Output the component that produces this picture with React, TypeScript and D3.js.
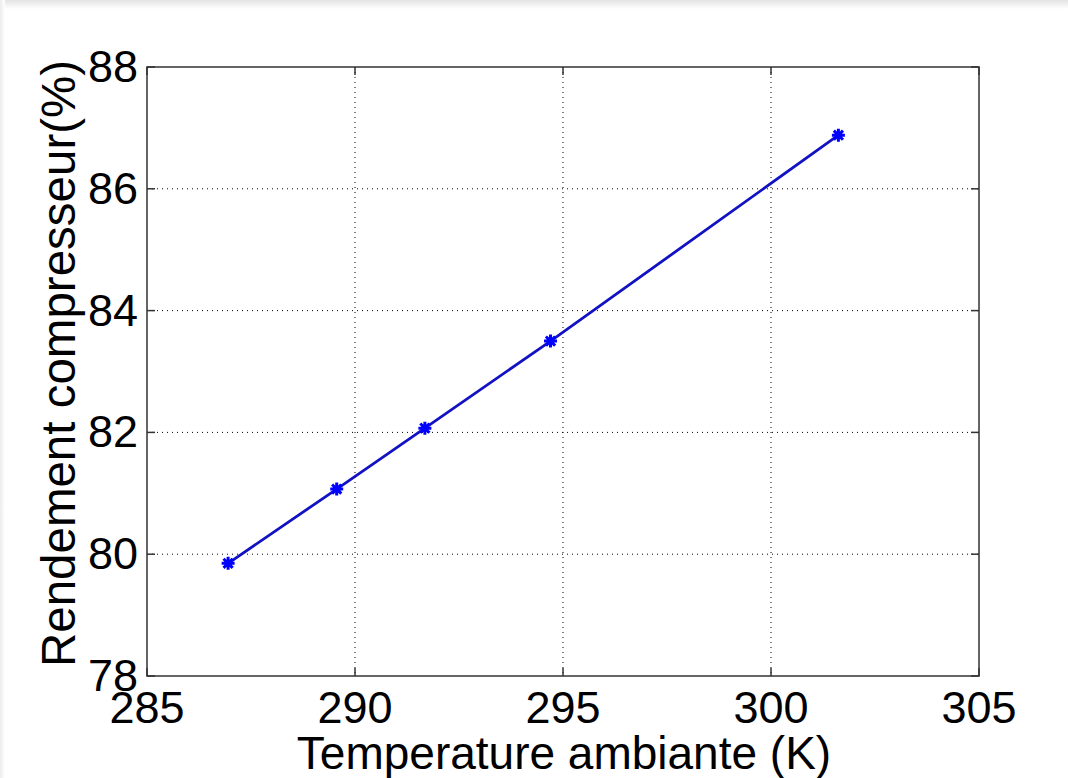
import React from "react";
import * as d3 from "d3";

// Ambient temperature (K) and compressor efficiency (%)
const temperatures = [286.95, 289.56, 291.68, 294.70, 301.62];
const efficiencies = [79.85, 81.07, 82.07, 83.50, 86.88];

const xTicks = [285, 290, 295, 300, 305];
const yTicks = [78, 80, 82, 84, 86, 88];

const xTitle = "Temperature ambiante (K)";
const yTitle = "Rendement compresseur(%)";

const W = 1068;
const H = 778;
const left = 147;
const right = 979;
const top = 67;
const bottom = 676;
const font = "Liberation Sans, Arial, Helvetica, sans-serif";

export default function App() {
  const x = d3.scaleLinear().domain([285, 305]).range([left, right]);
  const y = d3.scaleLinear().domain([78, 88]).range([bottom, top]);

  const pts = temperatures.map((t, i) => [x(t), y(efficiencies[i])] as [number, number]);
  const line = d3.line()(pts) || "";

  const star = (cx: number, cy: number, r: number) => {
    const d = r * Math.SQRT1_2;
    return `M${cx - r},${cy}L${cx + r},${cy}M${cx},${cy - r}L${cx},${cy + r}` +
      `M${cx - d},${cy - d}L${cx + d},${cy + d}M${cx - d},${cy + d}L${cx + d},${cy - d}`;
  };

  return (
    <svg
      width={W}
      height={H}
      viewBox={`0 0 ${W} ${H}`}
      style={{ position: "absolute", left: 0, top: 0, display: "block", background: "#fff" }}
    >
      <defs>
        <linearGradient id="shadeTop" x1="0" y1="0" x2="0" y2="1">
          <stop offset="0" stopColor="#e4e4e4" />
          <stop offset="1" stopColor="#ffffff" />
        </linearGradient>
        <linearGradient id="shadeLeft" x1="0" y1="0" x2="1" y2="0">
          <stop offset="0" stopColor="#ececec" />
          <stop offset="1" stopColor="#ffffff" />
        </linearGradient>
      </defs>
      <rect x={0} y={0} width={W} height={H} fill="#fff" />
      <rect x={0} y={0} width={W} height={9} fill="url(#shadeTop)" />
      <rect x={0} y={0} width={5} height={H} fill="url(#shadeLeft)" />

      {/* grid */}
      <g stroke="#000" strokeWidth={1} strokeDasharray="1,4" fill="none">
        {xTicks.slice(1, -1).map((t) => (
          <line key={`gx${t}`} x1={x(t)} x2={x(t)} y1={top} y2={bottom} />
        ))}
        {yTicks.slice(1, -1).map((t) => (
          <line key={`gy${t}`} x1={left} x2={right} y1={y(t)} y2={y(t)} />
        ))}
      </g>

      {/* axes box and ticks */}
      <g stroke="#333" strokeWidth={1.5} fill="none">
        <rect x={left} y={top} width={right - left} height={bottom - top} />
        {xTicks.map((t) => (
          <g key={`tx${t}`}>
            <line x1={x(t)} x2={x(t)} y1={bottom} y2={bottom - 8} />
            <line x1={x(t)} x2={x(t)} y1={top} y2={top + 8} />
          </g>
        ))}
        {yTicks.map((t) => (
          <g key={`ty${t}`}>
            <line x1={left} x2={left + 8} y1={y(t)} y2={y(t)} />
            <line x1={right} x2={right - 8} y1={y(t)} y2={y(t)} />
          </g>
        ))}
      </g>

      {/* tick labels */}
      <g fontFamily={font} fontSize={45} fill="#000">
        {xTicks.map((t) => (
          <text key={`lx${t}`} x={x(t)} y={bottom + 47} textAnchor="middle">
            {t}
          </text>
        ))}
        {yTicks.map((t) => (
          <text key={`ly${t}`} x={left - 9} y={y(t) + 15} textAnchor="end">
            {t}
          </text>
        ))}
      </g>

      {/* axis titles */}
      <text
        x={(left + right) / 2 + 1}
        y={769}
        textAnchor="middle"
        fontFamily={font}
        fontSize={46}
        fill="#000"
      >
        {xTitle}
      </text>
      <text
        transform={`translate(75,${(top + bottom) / 2 - 8}) rotate(-90)`}
        textAnchor="middle"
        fontFamily={font}
        fontSize={47.5}
        fill="#000"
      >
        {yTitle}
      </text>

      {/* series */}
      <path d={line} fill="none" stroke="#1212c4" strokeWidth={2.8} strokeLinejoin="round" />
      <g stroke="#0000ff" strokeWidth={3} fill="none">
        {pts.map(([cx, cy], i) => (
          <path key={`m${i}`} d={star(cx, cy, 6.5)} />
        ))}
      </g>
    </svg>
  );
}
